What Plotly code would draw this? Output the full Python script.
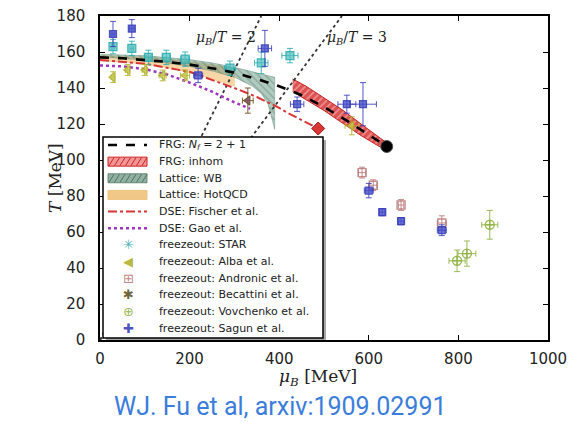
import plotly.graph_objects as go

# ---------------- data ----------------
frg_mu = [0, 50, 100, 150, 200, 250, 300, 350, 400, 450, 500, 550, 600, 640]
frg_T = [157, 156.5, 155.5, 154.5, 153, 151, 148.5, 145, 141, 136, 129.5, 122, 114, 107.5]
frg_cep_mu = [640]
frg_cep_T = [107.5]

inhom_mu = [430, 460, 500, 540, 580, 620, 640]
inhom_lo = [138, 133.5, 127.5, 121, 114, 108, 105.5]
inhom_hi = [145, 141, 134.5, 128, 120.5, 113, 109.5]

wb_up_mu = [0, 100, 200, 250, 300, 350, 390]
wb_up_T = [158.8, 158, 155.8, 154, 151.5, 148.5, 146]
wb_lo_mu = [0, 100, 200, 250, 300, 340, 360, 375, 385, 390]
wb_lo_T = [157.2, 155.5, 152, 149.5, 146, 141, 137, 131, 122, 117]

hot_mu = [0, 50, 100, 150, 200, 250, 300]
hot_hi = [158, 157.8, 157.2, 156.2, 154.8, 153, 150.8]
hot_lo = [155, 154.5, 153.2, 151.2, 148.5, 145, 141]

fis_mu = [0, 100, 200, 268, 300, 350, 400, 420, 469, 487]
fis_T = [155.5, 153.5, 149, 143, 140, 135, 129, 126, 120, 117.5]
fis_cep_mu = [487]
fis_cep_T = [117.5]

gao_mu = [0, 50, 100, 150, 200, 250, 300, 335]
gao_T = [152.5, 152, 150.5, 147.5, 143, 138, 132, 128.5]

ratio_values = [2, 3]
ratio_T = [0, 180]

star_mu = [29, 71, 108, 148, 190, 290, 360, 424]
star_T = [163, 162, 157, 157, 156, 151, 154, 158]
star_dT = [4, 4, 4, 4, 4, 4, 6, 4]
star_dmu = [3, 4, 6, 8, 10, 12, 15, 18]

alba_mu = [29, 62, 100, 140, 190, 562]
alba_T = [146, 150, 150, 147, 147, 119]
alba_dT = [3, 3, 3, 3, 3, 5]
alba_dmu = [4, 5, 6, 8, 10, 15]

andr_mu = [585, 610, 672, 763]
andr_T = [93, 86, 75, 65]
andr_dT = [3, 3, 3, 4]
andr_dmu = [8, 8, 6, 10]

bec_mu = [330]
bec_T = [133]
bec_dT = [7]
bec_dmu = [12]

vov_mu = [797, 819, 870]
vov_T = [44, 48, 64]
vov_dT = [6, 7, 8]
vov_dmu = [18, 20, 18]

sag_mu = [29, 71, 219, 368, 440, 551, 587, 600, 630, 672, 763]
sag_T = [170, 173, 147, 162, 131, 131, 131, 83, 71, 66, 61]
sag_dT = [7, 5, 4, 10, 4, 5, 12, 4, 2, 2, 3]
sag_dmu = [4, 5, 10, 15, 15, 20, 30, 10, 6, 6, 10]

x_ticks = [0, 200, 400, 600, 800, 1000]
y_ticks = [0, 20, 40, 60, 80, 100, 120, 140, 160, 180]

legend_labels = [
    "FRG: <i>N<sub>f</sub></i> = 2 + 1",
    "FRG: inhom",
    "Lattice: WB",
    "Lattice: HotQCD",
    "DSE: Fischer et al.",
    "DSE: Gao et al.",
    "freezeout: STAR",
    "freezeout: Alba et al.",
    "freezeout: Andronic et al.",
    "freezeout: Becattini et al.",
    "freezeout: Vovchenko et al.",
    "freezeout: Sagun et al.",
]

# ---------------- geometry helpers ----------------
OFF = 8  # default page body margin
W, H = 581 - OFF, 422 - OFF
ML, MR, MT, MB = 100 - OFF, 33, 16 - OFF, 82
PW = W - ML - MR
PH = H - MT - MB


def px(x):  # page pixel -> paper x
    return (x - OFF - ML) / PW


def py(y):  # page pixel -> paper y
    return (MT + PH - (y - OFF)) / PH


fig = go.Figure()

# bands
fig.add_trace(go.Scatter(
    x=hot_mu + hot_mu[::-1], y=hot_hi + hot_lo[::-1], fill="toself",
    fillcolor="rgba(240,180,95,0.55)", line=dict(color="rgba(235,170,80,0.6)", width=0.5),
    mode="lines", hoverinfo="skip", showlegend=False))

fig.add_trace(go.Scatter(
    x=wb_up_mu + wb_lo_mu[::-1], y=wb_up_T + wb_lo_T[::-1], fill="toself",
    fillcolor="rgba(80,140,115,0.45)",
    fillpattern=dict(shape="\\", fgcolor="rgba(50,95,75,0.7)", bgcolor="rgba(100,150,130,0.5)", size=5, solidity=0.25),
    line=dict(color="rgba(60,110,90,0.6)", width=0.5),
    mode="lines", hoverinfo="skip", showlegend=False))

fig.add_trace(go.Scatter(
    x=inhom_mu + inhom_mu[::-1], y=inhom_hi + inhom_lo[::-1], fill="toself",
    fillcolor="rgba(235,110,110,0.8)",
    fillpattern=dict(shape="/", fgcolor="rgba(255,235,235,0.9)", bgcolor="rgba(215,50,50,0.85)", size=5, solidity=0.3),
    line=dict(color="#c82020", width=1),
    mode="lines", hoverinfo="skip", showlegend=False))

# mu/T lines
for r in ratio_values:
    fig.add_trace(go.Scatter(
        x=[r * t for t in ratio_T], y=ratio_T, mode="lines",
        line=dict(color="#333333", width=1.8, dash="dot"),
        hoverinfo="skip", showlegend=False))

# DSE lines
fig.add_trace(go.Scatter(x=gao_mu, y=gao_T, mode="lines",
                         line=dict(color="#a035c0", width=2.5, dash="dot"),
                         showlegend=False))
fig.add_trace(go.Scatter(x=fis_mu, y=fis_T, mode="lines",
                         line=dict(color="#d83535", width=2, dash="dashdot"),
                         showlegend=False))


# freezeout data
def fz(mu, T, dmu, dT, color, symbol, size=8, lw=1.2, fill=None):
    fig.add_trace(go.Scatter(
        x=mu, y=T, mode="markers",
        error_y=dict(type="data", array=dT, color=color, thickness=1, width=3),
        error_x=dict(type="data", array=dmu, color=color, thickness=1, width=3),
        marker=dict(symbol=symbol, size=size, color=fill if fill else color,
                    line=dict(color=color, width=lw)),
        showlegend=False))


fz(star_mu, star_T, star_dmu, star_dT, "rgba(40,170,175,0.85)", "square", 8, 1.2, "rgba(80,190,190,0.7)")
fz(alba_mu, alba_T, alba_dmu, alba_dT, "rgba(175,175,40,0.85)", "triangle-left", 8, 1.2, "rgba(200,200,80,0.7)")
fz(andr_mu, andr_T, andr_dmu, andr_dT, "rgba(185,120,120,0.85)", "square-open", 8, 1.4)
fz(bec_mu, bec_T, bec_dmu, bec_dT, "rgba(110,80,40,0.9)", "triangle-left", 8, 1.2, "rgba(130,80,110,0.85)")
fz(vov_mu, vov_T, vov_dmu, vov_dT, "rgba(140,175,60,0.85)", "circle-cross-open", 9, 1.4)
fz(sag_mu, sag_T, sag_dmu, sag_dT, "rgba(55,60,185,0.85)", "square", 7, 1.2, "rgba(70,80,200,0.8)")

# FRG line and CEPs on top
fig.add_trace(go.Scatter(x=frg_mu, y=frg_T, mode="lines",
                         line=dict(color="black", width=2.6, dash="dash"),
                         showlegend=False))
fig.add_trace(go.Scatter(x=fis_cep_mu, y=fis_cep_T, mode="markers",
                         marker=dict(symbol="diamond", size=10, color="#d83535",
                                     line=dict(color="#a01818", width=1)),
                         showlegend=False))
fig.add_trace(go.Scatter(x=frg_cep_mu, y=frg_cep_T, mode="markers",
                         marker=dict(symbol="circle", size=12, color="black",
                                     line=dict(color="#555555", width=1)),
                         showlegend=False))

# ---------------- manual legend ----------------
shapes = []
annotations = []
shapes.append(dict(type="rect", xref="paper", yref="paper",
                   x0=px(106), x1=px(326), y0=py(340), y1=py(140),
                   fillcolor="#a8a8a8", line=dict(width=0), layer="above"))
shapes.append(dict(type="rect", xref="paper", yref="paper",
                   x0=px(103), x1=px(323), y0=py(338), y1=py(137),
                   fillcolor="white", line=dict(color="black", width=1.5), layer="above"))

row_y = [145 + 16.64 * k for k in range(12)]
sx0, sx1 = 108, 147


def hline(y, color, width, dash):
    shapes.append(dict(type="line", xref="paper", yref="paper",
                       x0=px(sx0), x1=px(sx1), y0=py(y), y1=py(y),
                       line=dict(color=color, width=width, dash=dash), layer="above"))


def box(y, fill, edge, hatch=None):
    shapes.append(dict(type="rect", xref="paper", yref="paper",
                       x0=px(sx0), x1=px(sx1), y0=py(y + 4.5), y1=py(y - 4.5),
                       fillcolor=fill, line=dict(color=edge, width=1), layer="above"))
    if hatch:
        for i in range(7):
            xa = sx0 + 1 + 5.5 * i
            shapes.append(dict(type="line", xref="paper", yref="paper",
                               x0=px(xa), x1=px(min(xa + 5, sx1)), y0=py(y + 4), y1=py(y - 4),
                               line=dict(color=hatch, width=1), layer="above"))


hline(row_y[0], "black", 2.5, "dash")
box(row_y[1], "rgba(240,140,140,0.9)", "#d02020", "#d02020")
box(row_y[2], "rgba(110,150,130,0.75)", "rgba(80,120,100,0.8)", "rgba(60,100,80,0.8)")
box(row_y[3], "rgba(238,190,115,0.85)", "rgba(238,190,115,0.85)")
hline(row_y[4], "#d83535", 2, "dashdot")
hline(row_y[5], "#a035c0", 2.5, "dot")

glyphs = [
    ("✳", "rgba(40,170,175,0.9)"),
    ("◀", "rgba(175,175,40,0.9)"),
    ("⊞", "rgba(185,120,120,0.9)"),
    ("✱", "rgba(90,80,30,0.9)"),
    ("⊕", "rgba(140,175,60,0.9)"),
    ("✚", "rgba(55,60,185,0.9)"),
]
for k, (g, c) in enumerate(glyphs):
    annotations.append(dict(xref="paper", yref="paper", x=px(128), y=py(row_y[6 + k]),
                            text=g, showarrow=False, xanchor="center", yanchor="middle",
                            font=dict(family="DejaVu Sans", size=13, color=c)))

for k, lab in enumerate(legend_labels):
    annotations.append(dict(xref="paper", yref="paper", x=px(157), y=py(row_y[k]),
                            text=lab, showarrow=False, xanchor="left", yanchor="middle",
                            font=dict(family="DejaVu Sans", size=11, color="#222222")))

# mu/T labels
for r, xc in zip(ratio_values, [226, 357]):
    annotations.append(dict(xref="paper", yref="paper", x=px(xc), y=py(38),
                            text=f"<i>μ<sub>B</sub></i>/<i>T</i> = {r}", showarrow=False,
                            xanchor="center", yanchor="middle",
                            font=dict(family="DejaVu Serif", size=14, color="#222222")))

# axis titles
annotations.append(dict(xref="paper", yref="paper", x=px(318), y=py(377),
                        text="<i>μ<sub>B</sub></i> [MeV]", showarrow=False,
                        xanchor="center", yanchor="middle",
                        font=dict(family="DejaVu Serif", size=17, color="#222222")))
annotations.append(dict(xref="paper", yref="paper", x=px(55), y=py(178),
                        text="<i>T</i> [MeV]", showarrow=False, textangle=-90,
                        xanchor="center", yanchor="middle",
                        font=dict(family="DejaVu Serif", size=17, color="#222222")))
# credit
annotations.append(dict(xref="paper", yref="paper", x=px(280), y=py(406),
                        text="WJ. Fu et al, arxiv:1909.02991", showarrow=False,
                        xanchor="center", yanchor="middle",
                        font=dict(family="Roboto", size=25, color="#3b7ddb")))

axis_common = dict(showgrid=False, zeroline=False, showline=True, linecolor="black",
                   linewidth=1.5, mirror="ticks", ticks="inside", ticklen=5,
                   tickwidth=1, tickcolor="black", automargin=False,
                   ticklabeloverflow="allow",
                   tickfont=dict(family="DejaVu Sans", size=15, color="#222222"))

fig.update_layout(
    width=W, height=H,
    margin=dict(l=ML, r=MR, t=MT, b=MB, autoexpand=False),
    paper_bgcolor="white", plot_bgcolor="white",
    showlegend=False,
    xaxis=dict(range=[0, 1000], tickvals=x_ticks, ticklabelstandoff=4, **axis_common),
    yaxis=dict(range=[0, 180], tickvals=y_ticks, ticklabelstandoff=10, **axis_common),
    shapes=shapes,
    annotations=annotations,
)

fig.write_html("out.html")
